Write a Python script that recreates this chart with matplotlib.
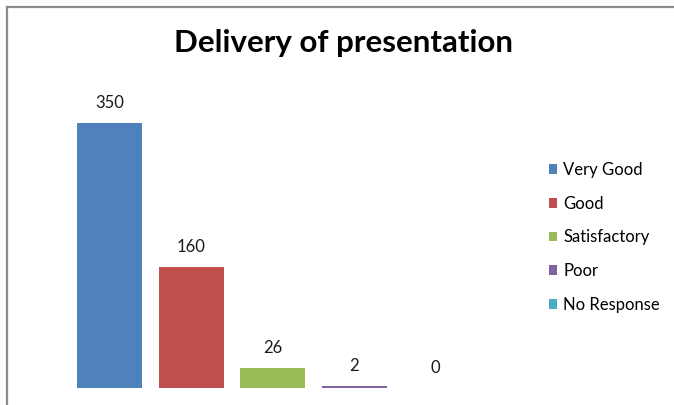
import matplotlib.pyplot as plt
from matplotlib.lines import Line2D
from matplotlib.patches import Patch

categories = ["Very Good", "Good", "Satisfactory", "Poor", "No Response"]
counts = [350, 160, 26, 2, 0]
colors = ["#4F81BD", "#C0504D", "#9BBB59", "#8064A2", "#4BACC6"]

W, H = 674, 405
fig = plt.figure(figsize=(W / 100, H / 100), dpi=100)

# plot area in pixels: baseline at y=388, 350 reaches y=123
px_per_unit = (388 - 123) / 350
left_px, right_px = 60, 490
bottom_px = 388
ymax = 400
top_px = bottom_px - ymax * px_per_unit
ax = fig.add_axes([left_px / W, (H - bottom_px) / H,
                   (right_px - left_px) / W, (bottom_px - top_px) / H])

spacing = 81.5
x0 = 109.5
xs = list(range(len(categories)))
ax.bar(xs, counts, width=65 / spacing, color=colors)
ax.set_xlim((left_px - x0) / spacing, (right_px - x0) / spacing)
ax.set_ylim(0, ymax)
ax.axis("off")

for x, v in zip(xs, counts):
    ax.annotate(str(v), (x, v), xytext=(0, 12), textcoords="offset pixels",
                ha="center", va="bottom", fontsize=12, family="Lato", color="#1a1a1a")

fig.text(344 / W, 1 - 43 / H, "Delivery of presentation", ha="center", va="center",
         fontsize=22.5, fontweight="bold", family="Lato")

handles = [Patch(facecolor=c, edgecolor="none") for c in colors]
fig.legend(handles, categories, loc="upper left", bbox_to_anchor=(534 / W, 1 - 147 / H),
           frameon=False, prop={"family": "Lato", "size": 12},
           handlelength=0.5, handleheight=0.5, handletextpad=0.35, labelspacing=1.06)

# chart border (top and left edges)
fig.add_artist(Line2D([6.5 / W, 6.5 / W], [0, 1 - 6.5 / H], transform=fig.transFigure,
                      color="#8c8c8c", lw=1.6))
fig.add_artist(Line2D([6.5 / W, 1], [1 - 6.5 / H, 1 - 6.5 / H], transform=fig.transFigure,
                      color="#8c8c8c", lw=1.6))

fig.savefig("out.png", dpi=100)
